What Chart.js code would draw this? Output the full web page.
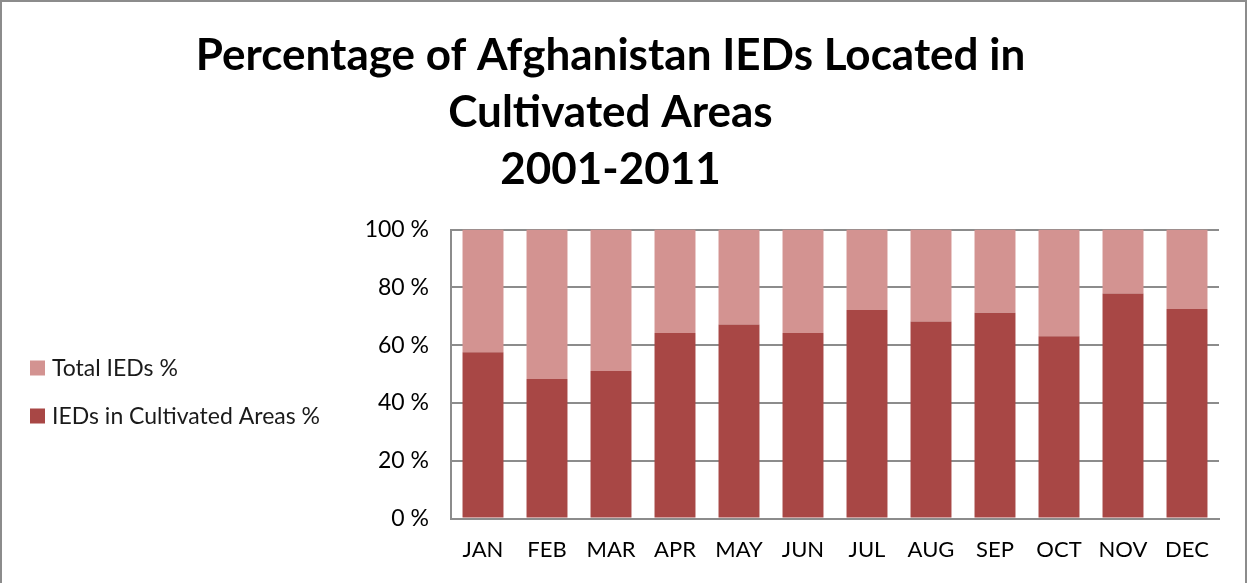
<!DOCTYPE html>
<html>
<head>
<meta charset="utf-8">
<script src="https://cdn.jsdelivr.net/npm/chart.js@4/dist/chart.umd.min.js"></script>
<style>
  html, body { margin: 0; padding: 0; background: #fff; }
  #wrap { position: relative; width: 1247px; height: 583px; box-sizing: border-box; border: 2px solid #8c8c8c; border-bottom: none; }
  canvas { display: block; }
</style>
</head>
<body>
<div id="wrap"><canvas id="c"></canvas></div>
<script>
const titleLines = ["Percentage of Afghanistan IEDs Located in", "Cultivated Areas", "2001-2011"];
const categories = ["JAN","FEB","MAR","APR","MAY","JUN","JUL","AUG","SEP","OCT","NOV","DEC"];
const cultivatedPct = [57.6, 48.3, 51.1, 64.2, 67.2, 64.2, 72.2, 68.2, 71.2, 63.1, 77.9, 72.5];
const totalPct = [42.4, 51.7, 48.9, 35.8, 32.8, 35.8, 27.8, 31.8, 28.8, 36.9, 22.1, 27.5];
const yTicks = [0, 20, 40, 60, 80, 100];

const FONT = "Lato, 'Open Sans', 'Liberation Sans', sans-serif";

// Legend drawn on the left, vertically stacked (top item = top of stack)
const sideLegend = {
  id: 'sideLegend',
  afterDraw(chart) {
    const ctx = chart.ctx;
    const ds = chart.data.datasets.slice().reverse();
    const x0 = 28, yStart = 366, gap = 48, box = 15;
    ctx.save();
    ctx.font = "23px " + FONT;
    ctx.textBaseline = 'middle';
    ctx.textAlign = 'left';
    ds.forEach((d, i) => {
      const cy = yStart + i * gap;
      ctx.fillStyle = d.backgroundColor;
      ctx.fillRect(x0, cy - box / 2, box, box);
      ctx.fillStyle = '#1a1a1a';
      ctx.fillText(d.label, x0 + box + 7, cy + 1);
    });
    ctx.restore();
  }
};

new Chart(document.getElementById('c'), {
  type: 'bar',
  data: {
    labels: categories,
    datasets: [
      { label: 'IEDs in Cultivated Areas %', data: cultivatedPct, backgroundColor: '#A84745', borderWidth: 0, barPercentage: 0.64, categoryPercentage: 1.0 },
      { label: 'Total IEDs %', data: totalPct, backgroundColor: '#D39391', borderWidth: 0, barPercentage: 0.64, categoryPercentage: 1.0 }
    ]
  },
  plugins: [sideLegend],
  options: {
    responsive: true,
    maintainAspectRatio: false,
    animation: false,
    layout: { padding: { left: 0, right: 26, top: 20, bottom: 2 } },
    plugins: {
      title: {
        display: true,
        text: titleLines,
        color: '#000',
        font: { family: FONT, size: 44, weight: 'bold', lineHeight: 1.3 },
        padding: { top: 5, bottom: 31 }
      },
      legend: { display: false },
      tooltip: { enabled: false }
    },
    scales: {
      x: {
        stacked: true,
        grid: { display: false, drawTicks: false },
        border: { display: true, color: '#8c8c8c', width: 2 },
        ticks: { color: '#000', font: { family: FONT, size: 22 }, padding: 18 }
      },
      y: {
        stacked: true,
        min: 0, max: 100,
        afterBuildTicks: (s) => { s.ticks = yTicks.map(v => ({ value: v })); },
        afterFit: (s) => { s.width = 449; },
        grid: { color: '#8c8c8c', lineWidth: 2, drawTicks: false },
        border: { display: true, color: '#8c8c8c', width: 2 },
        ticks: { color: '#000', font: { family: FONT, size: 23 }, padding: 22, callback: (v) => v + ' %' }
      }
    }
  }
});
</script>
</body>
</html>
